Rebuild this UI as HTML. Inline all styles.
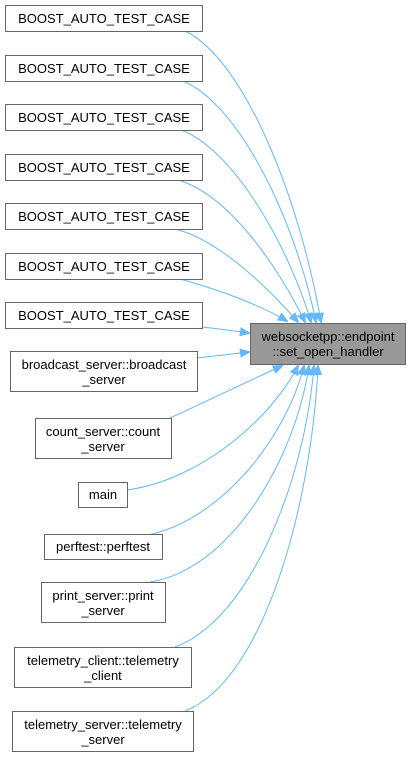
<!DOCTYPE html>
<html><head><style>
body{margin:0;background:#fff;width:410px;height:757px;overflow:hidden}
svg{display:block}
text{font-family:"Liberation Sans",Arial,sans-serif;font-size:13px;fill:#000}
</style></head><body>
<svg width="410" height="757" viewBox="0 0 410 757">
<defs><marker id="a" viewBox="0 0 10 10" refX="9" refY="5" markerWidth="10" markerHeight="10" markerUnits="userSpaceOnUse" orient="auto"><path d="M0,1L10,5L0,9z" fill="#63b8ff" stroke="#63b8ff"/></marker></defs>
<g fill="none" stroke="#63b8ff" stroke-width="1" marker-end="url(#a)">
<path d="M185,31C245,60 300,200 321,322"/>
<path d="M183,81C240,105 295,220 316,322"/>
<path d="M181,130C235,150 290,250 311,322"/>
<path d="M178,180C230,195 280,270 305,322"/>
<path d="M175,229C220,240 270,290 298,322"/>
<path d="M180,279C220,290 260,305 287,321"/>
<path d="M202,327C220,329 235,331 249,333"/>
<path d="M197,358C215,356 232,354 249,352"/>
<path d="M170,418C210,400 250,380 282,366"/>
<path d="M127,490C200,480 270,420 298,366"/>
<path d="M148,535C220,520 285,440 304,366"/>
<path d="M150,582C230,570 295,460 309,366"/>
<path d="M175,647C250,620 305,480 314,366"/>
<path d="M185,711C265,680 312,500 318,366"/>
</g>
<g fill="#fff" stroke="#666" stroke-width="1">
<rect x="5.5" y="5.5" width="197" height="26"/>
<rect x="5.5" y="55.5" width="197" height="26"/>
<rect x="5.5" y="104.5" width="197" height="26"/>
<rect x="5.5" y="154.5" width="197" height="26"/>
<rect x="5.5" y="203.5" width="197" height="26"/>
<rect x="5.5" y="253.5" width="197" height="26"/>
<rect x="5.5" y="302.5" width="197" height="26"/>
<rect x="10.5" y="351.5" width="187" height="40"/>
<rect x="35.5" y="418.5" width="136" height="40"/>
<rect x="78.5" y="482.5" width="49" height="25"/>
<rect x="44.5" y="534.5" width="118" height="25"/>
<rect x="41.5" y="582.5" width="124" height="40"/>
<rect x="14.5" y="647.5" width="177" height="40"/>
<rect x="12.5" y="711.5" width="181" height="40"/>
<rect x="250.5" y="323.5" width="155" height="41" fill="#999"/>
</g>
<g text-anchor="middle">
<text x="104" y="23">BOOST_AUTO_TEST_CASE</text>
<text x="104" y="73">BOOST_AUTO_TEST_CASE</text>
<text x="104" y="122">BOOST_AUTO_TEST_CASE</text>
<text x="104" y="172">BOOST_AUTO_TEST_CASE</text>
<text x="104" y="221">BOOST_AUTO_TEST_CASE</text>
<text x="104" y="271">BOOST_AUTO_TEST_CASE</text>
<text x="104" y="320">BOOST_AUTO_TEST_CASE</text>
<text x="104" y="369">broadcast_server::broadcast</text>
<text x="104" y="384">_server</text>
<text x="103" y="436">count_server::count</text>
<text x="103" y="451">_server</text>
<text x="103" y="499">main</text>
<text x="103" y="551">perftest::perftest</text>
<text x="103" y="600">print_server::print</text>
<text x="103" y="615">_server</text>
<text x="103" y="665">telemetry_client::telemetry</text>
<text x="103" y="680">_client</text>
<text x="103" y="729">telemetry_server::telemetry</text>
<text x="103" y="744">_server</text>
<text x="328" y="341">websocketpp::endpoint</text>
<text x="328" y="356">::set_open_handler</text>
</g>
</svg>
</body></html>
